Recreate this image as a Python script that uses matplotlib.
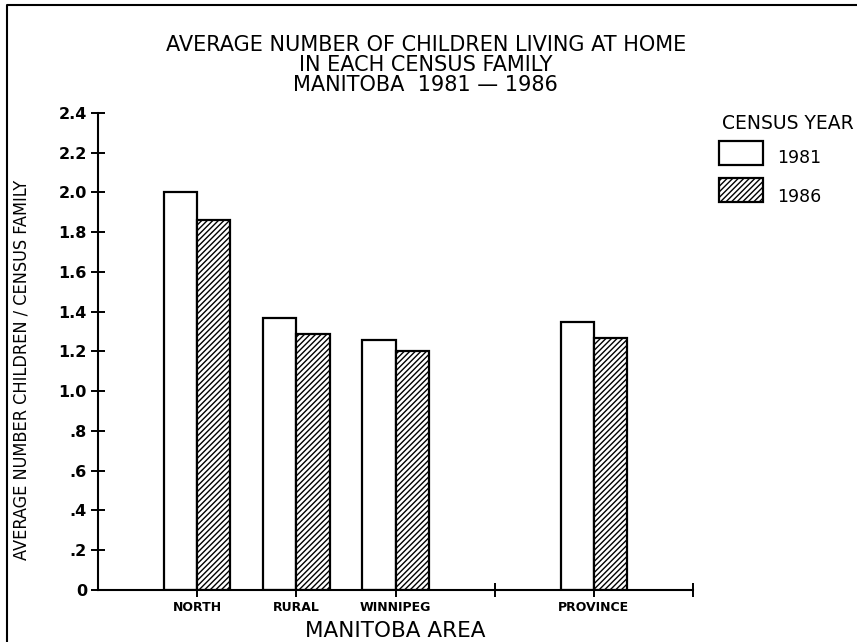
import matplotlib.pyplot as plt
from matplotlib.patches import Rectangle
from matplotlib.lines import Line2D

areas = ['NORTH', 'RURAL', 'WINNIPEG', 'PROVINCE']
years = ['1981', '1986']
avg_1981 = [2.00, 1.37, 1.26, 1.35]
avg_1986 = [1.86, 1.29, 1.20, 1.27]
yticks = [0, 0.2, 0.4, 0.6, 0.8, 1.0, 1.2, 1.4, 1.6, 1.8, 2.0, 2.2, 2.4]
ytick_labels = ['0', '.2', '.4', '.6', '.8', '1.0', '1.2', '1.4', '1.6', '1.8', '2.0', '2.2', '2.4']

plt.rcParams['hatch.linewidth'] = 1.0

fig = plt.figure(figsize=(8.57, 6.42), dpi=100)
ax = fig.add_axes([0.1144, 0.081, 0.6942, 0.743])

# province is set apart from the three areas by an empty slot
pos = [1, 2, 3, 5]
w = 0.335
ax.bar([p - w / 2 for p in pos], avg_1981, w, color='white', edgecolor='black', linewidth=1.6)
ax.bar([p + w / 2 for p in pos], avg_1986, w, color='white', edgecolor='black', linewidth=1.6,
       hatch='//////')

ax.set_xlim(0, 6)
ax.set_ylim(0, 2.4)
ax.spines['top'].set_visible(False)
ax.spines['right'].set_visible(False)
ax.spines['left'].set_linewidth(1.5)
ax.spines['bottom'].set_linewidth(1.5)

ax.set_yticks(yticks)
ax.set_yticklabels(ytick_labels, fontsize=11.5, fontweight='bold')
ax.set_xticks([1, 2, 3, 4, 5, 6])
ax.set_xticklabels(['NORTH', 'RURAL', 'WINNIPEG', '', 'PROVINCE', ''], fontsize=9, fontweight='bold')
ax.tick_params(axis='both', direction='inout', length=10, width=1.4)
ax.tick_params(axis='y', pad=3)
ax.tick_params(axis='x', pad=3)

ax.set_xlabel('MANITOBA AREA', fontsize=15.5)
ax.xaxis.set_label_coords(0.5, -0.065)
ax.set_ylabel('AVERAGE NUMBER CHILDREN / CENSUS FAMILY', fontsize=13,
              family=['Liberation Sans Narrow', 'DejaVu Sans'], stretch='condensed')
ax.yaxis.set_label_coords(-0.114, 0.461)

fig.text(0.497, 0.898, 'AVERAGE NUMBER OF CHILDREN LIVING AT HOME\nIN EACH CENSUS FAMILY\nMANITOBA  1981 \u2014 1986',
         ha='center', va='center', fontsize=15, linespacing=1.0)

# legend
fig.text(0.842, 0.808, 'CENSUS YEAR', fontsize=13.5, va='center')
fig.patches.append(Rectangle((0.839, 0.743), 0.051, 0.037, transform=fig.transFigure,
                             facecolor='white', edgecolor='black', linewidth=1.6))
fig.patches.append(Rectangle((0.839, 0.685), 0.051, 0.037, transform=fig.transFigure,
                             facecolor='white', edgecolor='black', linewidth=1.6, hatch='//////'))
fig.text(0.907, 0.754, years[0], fontsize=12.5, va='center')
fig.text(0.907, 0.693, years[1], fontsize=12.5, va='center')

# page border
fig.lines.append(Line2D([0.008, 0.008, 1.0], [0.0, 0.992, 0.992], transform=fig.transFigure,
                        color='black', linewidth=1.5))

fig.savefig('out.png', dpi=100)
